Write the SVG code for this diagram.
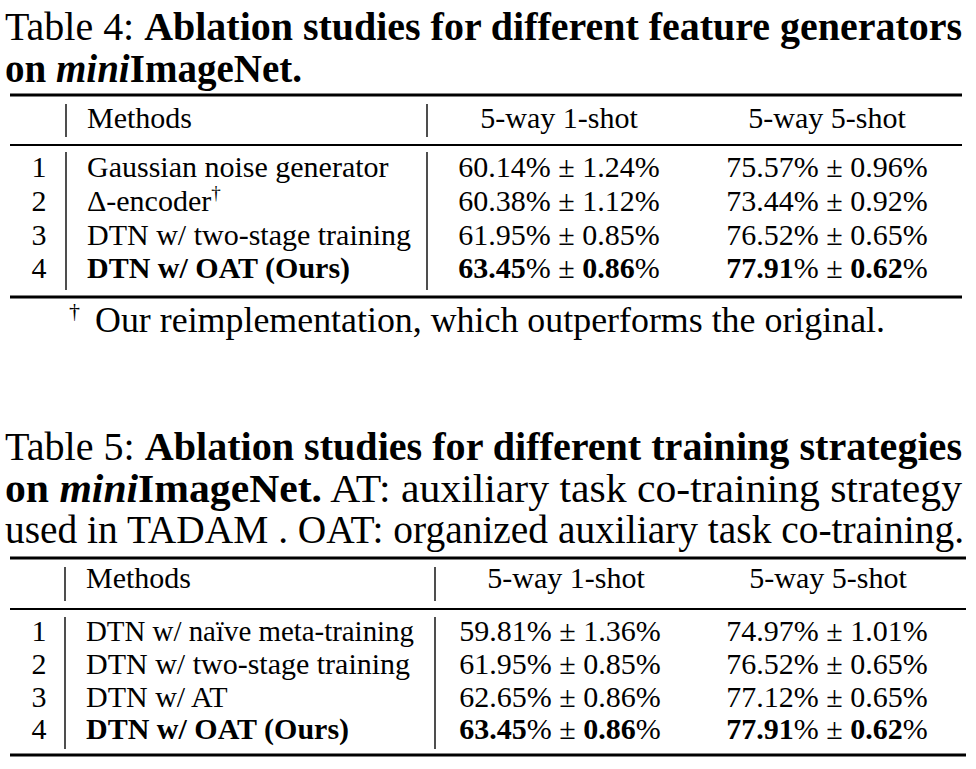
<svg xmlns="http://www.w3.org/2000/svg" width="976" height="769" viewBox="0 0 976 769">
<style>
text{font-family:"Liberation Serif","Times New Roman",serif;fill:#000}
.cap{font-size:40px}
.b{font-weight:bold}
.cell{font-size:30px}
.num{font-size:30px;text-anchor:middle}
.rule3{stroke:#000;stroke-width:3}
.rule2{stroke:#000;stroke-width:2}
.bar{stroke:#222;stroke-width:1.6}
</style>
<rect width="976" height="769" fill="#fff"/>
<g id="table4">
<text class="cap" x="5" y="40" textLength="957" lengthAdjust="spacingAndGlyphs">Table 4: <tspan class="b">Ablation studies for different feature generators</tspan></text>
<text class="cap b" x="5" y="82" textLength="297" lengthAdjust="spacingAndGlyphs">on <tspan font-style="italic">mini</tspan>ImageNet.</text>
<line class="rule3" x1="10" y1="95" x2="962" y2="95"/>
<line class="bar" x1="66" y1="104" x2="66" y2="137"/>
<line class="bar" x1="427" y1="104" x2="427" y2="137"/>
<text class="cell" x="87" y="128">Methods</text>
<text class="num" x="559" y="128">5-way 1-shot</text>
<text class="num" x="827" y="128">5-way 5-shot</text>
<line class="rule2" x1="10" y1="145" x2="962" y2="145"/>
<line class="bar" x1="66" y1="152" x2="66" y2="290"/>
<line class="bar" x1="427" y1="152" x2="427" y2="290"/>
<text class="num" x="39" y="177">1</text>
<text class="num" x="39" y="211">2</text>
<text class="num" x="39" y="245">3</text>
<text class="num" x="39" y="278">4</text>
<text class="cell" x="87" y="177">Gaussian noise generator</text>
<text class="cell" x="87" y="211">Δ-encoder<tspan font-size="19" dy="-12">†</tspan></text>
<text class="cell" x="87" y="245">DTN w/ two-stage training</text>
<text class="cell b" x="87" y="278">DTN w/ OAT (Ours)</text>
<text class="num" x="559" y="177">60.14% ± 1.24%</text>
<text class="num" x="559" y="211">60.38% ± 1.12%</text>
<text class="num" x="559" y="245">61.95% ± 0.85%</text>
<text class="num" x="559" y="278"><tspan class="b">63.45</tspan>% ± <tspan class="b">0.86</tspan>%</text>
<text class="num" x="827" y="177">75.57% ± 0.96%</text>
<text class="num" x="827" y="211">73.44% ± 0.92%</text>
<text class="num" x="827" y="245">76.52% ± 0.65%</text>
<text class="num" x="827" y="278"><tspan class="b">77.91</tspan>% ± <tspan class="b">0.62</tspan>%</text>
<line class="rule3" x1="10" y1="297" x2="962" y2="297"/>
<text x="69" y="318" font-size="22">†</text>
<text x="95" y="332" font-size="36" textLength="790" lengthAdjust="spacingAndGlyphs">Our reimplementation, which outperforms the original.</text>
</g>
<g id="table5">
<text class="cap" x="5" y="460" textLength="957" lengthAdjust="spacingAndGlyphs">Table 5: <tspan class="b">Ablation studies for different training strategies</tspan></text>
<text class="cap" x="5" y="502" textLength="957" lengthAdjust="spacingAndGlyphs"><tspan class="b">on <tspan font-style="italic">mini</tspan>ImageNet.</tspan> AT: auxiliary task co-training strategy</text>
<text x="5" y="543" font-size="39" textLength="959" lengthAdjust="spacingAndGlyphs">used in TADAM . OAT: organized auxiliary task co-training.</text>
<line class="rule3" x1="10" y1="558" x2="966" y2="558"/>
<line class="bar" x1="65" y1="567" x2="65" y2="601"/>
<line class="bar" x1="435" y1="567" x2="435" y2="601"/>
<text class="cell" x="86" y="588">Methods</text>
<text class="num" x="566" y="588">5-way 1-shot</text>
<text class="num" x="828" y="588">5-way 5-shot</text>
<line class="rule2" x1="10" y1="609" x2="966" y2="609"/>
<line class="bar" x1="65" y1="617" x2="65" y2="749"/>
<line class="bar" x1="435" y1="617" x2="435" y2="749"/>
<text class="num" x="39" y="641">1</text>
<text class="num" x="39" y="674">2</text>
<text class="num" x="39" y="707">3</text>
<text class="num" x="39" y="739">4</text>
<text class="cell" x="86" y="641" textLength="328" lengthAdjust="spacingAndGlyphs">DTN w/ naïve meta-training</text>
<text class="cell" x="86" y="674">DTN w/ two-stage training</text>
<text class="cell" x="86" y="707">DTN w/ AT</text>
<text class="cell b" x="86" y="739">DTN w/ OAT (Ours)</text>
<text class="num" x="560" y="641">59.81% ± 1.36%</text>
<text class="num" x="560" y="674">61.95% ± 0.85%</text>
<text class="num" x="560" y="707">62.65% ± 0.86%</text>
<text class="num" x="560" y="739"><tspan class="b">63.45</tspan>% ± <tspan class="b">0.86</tspan>%</text>
<text class="num" x="827" y="641">74.97% ± 1.01%</text>
<text class="num" x="827" y="674">76.52% ± 0.65%</text>
<text class="num" x="827" y="707">77.12% ± 0.65%</text>
<text class="num" x="827" y="739"><tspan class="b">77.91</tspan>% ± <tspan class="b">0.62</tspan>%</text>
<line class="rule3" x1="10" y1="755" x2="966" y2="755"/>
</g>
</svg>
